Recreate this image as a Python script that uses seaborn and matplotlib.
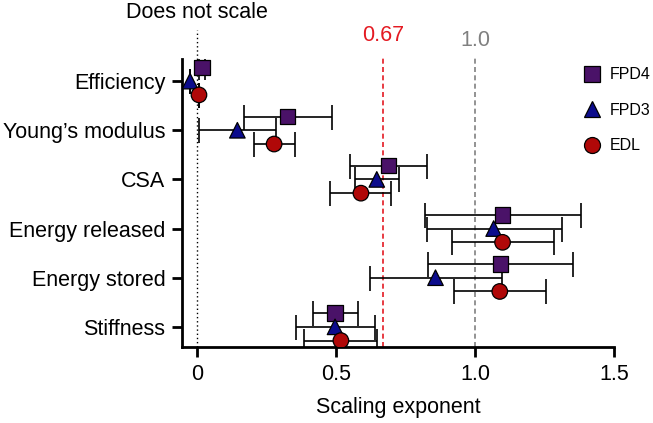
import numpy as np
import pandas as pd
import matplotlib
matplotlib.use("Agg")
import matplotlib.pyplot as plt
import seaborn as sns

# values
categories = ["Efficiency", "Young\u2019s modulus", "CSA", "Energy released", "Energy stored", "Stiffness"]
series = ["FPD4", "FPD3", "EDL"]

fpd4 = [0.018, 0.326, 0.689, 1.099, 1.091, 0.497]
fpd4_lo = [0.008, 0.170, 0.549, 0.819, 0.830, 0.416]
fpd4_hi = [0.028, 0.486, 0.828, 1.380, 1.351, 0.581]

fpd3 = [-0.024, 0.146, 0.647, 1.067, 0.858, 0.497]
fpd3_lo = [-0.024, 0.008, 0.567, 0.827, 0.621, 0.356]
fpd3_hi = [-0.024, 0.285, 0.728, 1.313, 1.096, 0.639]

edl = [0.008, 0.278, 0.590, 1.099, 1.089, 0.518]
edl_lo = [0.008, 0.204, 0.478, 0.917, 0.923, 0.386]
edl_hi = [0.008, 0.354, 0.699, 1.285, 1.256, 0.649]

colors = {"FPD4": "#4a1268", "FPD3": "#0c0c8c", "EDL": "#b00808"}
markers = {"FPD4": "s", "FPD3": "^", "EDL": "o"}
offsets = {"FPD4": -0.28, "FPD3": 0.0, "EDL": 0.28}

sns.set_style("ticks")
plt.rcParams["font.family"] = ["Liberation Sans", "DejaVu Sans"]
plt.rcParams["font.size"] = 15.5
for key in ["text.color", "axes.labelcolor", "xtick.color", "ytick.color", "axes.edgecolor"]:
    plt.rcParams[key] = "black"

# long table for seaborn
rows = []
for name, vals, lo, hi in [("FPD4", fpd4, fpd4_lo, fpd4_hi),
                           ("FPD3", fpd3, fpd3_lo, fpd3_hi),
                           ("EDL", edl, edl_lo, edl_hi)]:
    for i, cat in enumerate(categories):
        rows.append({"series": name, "category": cat, "value": vals[i],
                     "lo": lo[i], "hi": hi[i], "y": i + offsets[name]})
df = pd.DataFrame(rows)

fig = plt.figure(figsize=(6.53, 4.23), dpi=100)
ax = fig.add_axes([0.2787, 0.1797, 0.6618, 0.6808])

# error bars
for name in series:
    d = df[df["series"] == name]
    ax.errorbar(d["value"], d["y"],
                xerr=[d["value"] - d["lo"], d["hi"] - d["value"]],
                fmt="none", ecolor="black", elinewidth=1.2, capsize=9,
                capthick=1.2, zorder=2)

sns.scatterplot(data=df, x="value", y="y", hue="series", style="series",
                hue_order=series, style_order=series,
                palette=colors, markers=markers, s=125,
                edgecolor="black", linewidth=0.9, zorder=3, ax=ax)

# reference lines
ax.axvline(0, ymin=0, ymax=1.10, color="black", ls=(0, (1, 2)), lw=1, clip_on=False, zorder=1)
ax.axvline(0.67, ymin=0, ymax=1.01, color="#e41a22", ls=(0, (3, 2)), lw=1.2, clip_on=False, zorder=1)
ax.axvline(1.0, ymin=0, ymax=1.01, color="#808080", ls=(0, (3, 2)), lw=1.2, clip_on=False, zorder=1)
ax.text(0, 1.16, "Does not scale", transform=ax.get_xaxis_transform(),
        ha="center", va="center", fontsize=15.5, color="black")
ax.text(0.67, 1.08, "0.67", transform=ax.get_xaxis_transform(),
        ha="center", va="center", fontsize=15.5, color="#e41a22")
ax.text(1.0, 1.066, "1.0", transform=ax.get_xaxis_transform(),
        ha="center", va="center", fontsize=15.5, color="#808080")

ax.set_xlim(-0.053, 1.5)
ax.set_ylim(5.41, -0.45)
ax.set_xticks([0, 0.5, 1.0, 1.5])
ax.set_xticklabels(["0", "0.5", "1.0", "1.5"])
ax.set_yticks(np.arange(len(categories)))
ax.set_yticklabels(categories)
ax.set_xlabel("Scaling exponent", fontsize=15.5, labelpad=9)
ax.set_ylabel("")
ax.tick_params(axis="both", width=2, length=7, labelsize=15.5, color="black",
               labelcolor="black", pad=5)
for side in ["left", "bottom"]:
    ax.spines[side].set_linewidth(2)
    ax.spines[side].set_color("black")
sns.despine(ax=ax)

leg = ax.legend(loc="upper left", bbox_to_anchor=(0.895, 0.841),
                bbox_transform=fig.transFigure, frameon=False,
                handlelength=1.0, handletextpad=0.6, labelspacing=1.28,
                fontsize=11.5, borderpad=0, borderaxespad=0)
for h in leg.legend_handles:
    if hasattr(h, "set_markersize"):
        h.set_markersize(11.5)

fig.savefig("out.png", dpi=100)
